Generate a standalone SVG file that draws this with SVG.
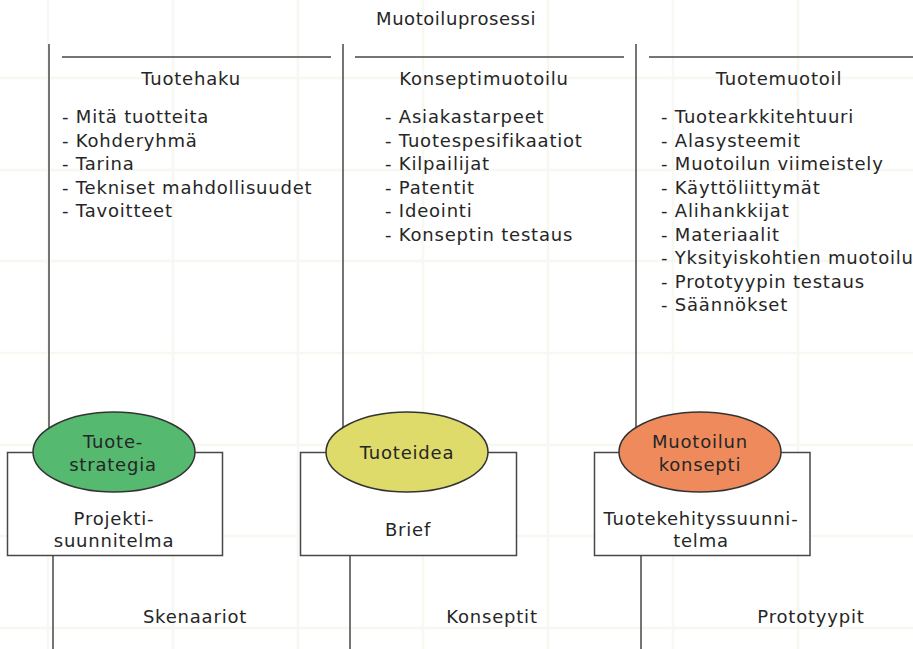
<svg xmlns="http://www.w3.org/2000/svg" width="913" height="649" viewBox="0 0 913 649">
<style>
text{font-family:"DejaVu Sans",Verdana,sans-serif;font-size:18px;fill:#262626;letter-spacing:0.8px}
.c{text-anchor:middle}
.ln{stroke:#474747;stroke-width:1.5;fill:none}
.grid{stroke:#f7f8f1;stroke-width:2.5}
.box{fill:#fff;stroke:#474747;stroke-width:1.5}
.el{stroke:#333;stroke-width:1.5}
</style>
<rect width="913" height="649" fill="#fff"/>
<g id="grid" class="grid">
<line x1="48" y1="0" x2="48" y2="649"/><line x1="173" y1="0" x2="173" y2="649"/><line x1="298" y1="0" x2="298" y2="649"/><line x1="423" y1="0" x2="423" y2="649"/><line x1="548" y1="0" x2="548" y2="649"/><line x1="673" y1="0" x2="673" y2="649"/><line x1="798" y1="0" x2="798" y2="649"/>
<line x1="0" y1="78" x2="913" y2="78"/><line x1="0" y1="170" x2="913" y2="170"/><line x1="0" y1="261" x2="913" y2="261"/><line x1="0" y1="353" x2="913" y2="353"/><line x1="0" y1="445" x2="913" y2="445"/><line x1="0" y1="536" x2="913" y2="536"/><line x1="0" y1="628" x2="913" y2="628"/>
</g>
<text id="title" class="c" x="456" y="25" style="letter-spacing:0.55px">Muotoiluprosessi</text>
<g id="connectors" class="ln">
<line x1="49" y1="44" x2="49" y2="430"/>
<line x1="343" y1="44" x2="343" y2="430"/>
<line x1="636" y1="44" x2="636" y2="430"/>
<line x1="62" y1="57" x2="331" y2="57"/>
<line x1="355" y1="57" x2="624" y2="57"/>
<line x1="649" y1="57" x2="913" y2="57"/>
<line x1="53" y1="556" x2="53" y2="649"/>
<line x1="350" y1="556" x2="350" y2="649"/>
<line x1="641" y1="556" x2="641" y2="649"/>
</g>
<g id="col1">
<text class="c" x="191" y="85">Tuotehaku</text>
<text x="62" y="123">- Mitä tuotteita</text>
<text x="62" y="147">- Kohderyhmä</text>
<text x="62" y="170">- Tarina</text>
<text x="62" y="194">- Tekniset mahdollisuudet</text>
<text x="62" y="217">- Tavoitteet</text>
</g>
<g id="col2">
<text class="c" x="484" y="85">Konseptimuotoilu</text>
<text x="385" y="123">- Asiakastarpeet</text>
<text x="385" y="147">- Tuotespesifikaatiot</text>
<text x="385" y="170">- Kilpailijat</text>
<text x="385" y="194">- Patentit</text>
<text x="385" y="217">- Ideointi</text>
<text x="385" y="241">- Konseptin testaus</text>
</g>
<g id="col3">
<text class="c" x="779" y="85">Tuotemuotoil</text>
<text x="661" y="123">- Tuotearkkitehtuuri</text>
<text x="661" y="147">- Alasysteemit</text>
<text x="661" y="170">- Muotoilun viimeistely</text>
<text x="661" y="194">- Käyttöliittymät</text>
<text x="661" y="217">- Alihankkijat</text>
<text x="661" y="241">- Materiaalit</text>
<text x="661" y="264">- Yksityiskohtien muotoilu</text>
<text x="661" y="288">- Prototyypin testaus</text>
<text x="661" y="311">- Säännökset</text>
</g>
<g id="node1">
<rect class="box" x="7.5" y="452.5" width="215" height="103"/>
<ellipse class="el" cx="114" cy="452" rx="81" ry="40" fill="#55b96f"/>
<text class="c" x="113" y="448">Tuote-</text>
<text class="c" x="113" y="471">strategia</text>
<text class="c" x="114" y="525">Projekti-</text>
<text class="c" x="114" y="547">suunnitelma</text>
</g>
<g id="node2">
<rect class="box" x="300.5" y="452.5" width="216" height="103"/>
<ellipse class="el" cx="407" cy="452" rx="81" ry="40" fill="#dedb6a"/>
<text class="c" x="407" y="459">Tuoteidea</text>
<text class="c" x="408" y="536">Brief</text>
</g>
<g id="node3">
<rect class="box" x="594.5" y="452.5" width="215.5" height="103"/>
<ellipse class="el" cx="700" cy="452" rx="81" ry="40" fill="#ee8a5c"/>
<text class="c" x="700" y="448">Muotoilun</text>
<text class="c" x="700" y="471">konsepti</text>
<text class="c" x="701" y="525">Tuotekehityssuunni-</text>
<text class="c" x="701" y="547">telma</text>
</g>
<g id="labels">
<text class="c" x="195" y="623">Skenaariot</text>
<text class="c" x="492" y="623">Konseptit</text>
<text class="c" x="811" y="623">Prototyypit</text>
</g>
</svg>
